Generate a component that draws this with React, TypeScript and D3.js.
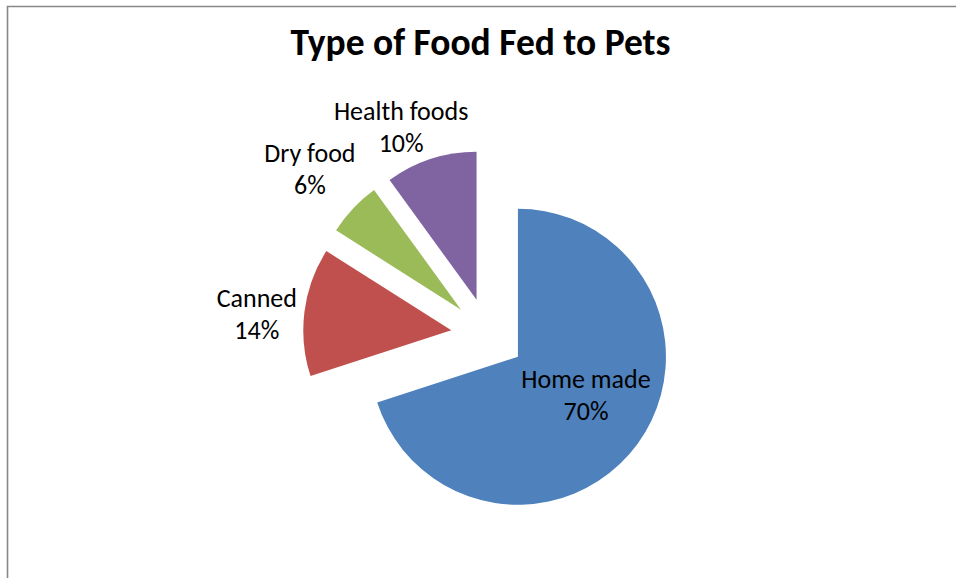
import React from "react";
import * as d3 from "d3";

const categories = ["Home made", "Canned", "Dry food", "Health foods"];
const values = [70, 14, 6, 10];
const colors = ["#4F81BD", "#C0504D", "#9BBB59", "#8064A2"];
const title = "Type of Food Fed to Pets";

const W = 956;
const H = 578;
const cx = 488;
const cy = 335;
const R = 148;
const explode = 37;
// label layout: distance from slice apex along mid-angle, plus small shift
const labelDist = [78, 196, 206, 189];
const labelShift: [number, number][] = [[5, -7], [0, 9], [-1, 1], [-17, 7]];
const lineGap = 32;
const FONT = "Carlito, Calibri, Lato, sans-serif";

export default function App() {
  const total = d3.sum(values);
  const pie = d3.pie<number>().sort(null).startAngle(0).endAngle(2 * Math.PI).value((d) => d);
  const arcs = pie(values);
  const arc = d3.arc<d3.PieArcDatum<number>>().innerRadius(0).outerRadius(R);

  return (
    <svg
      width={W}
      height={H}
      style={{ position: "absolute", left: 0, top: 0, background: "#fff" }}
    >
      <rect x={0} y={0} width={W} height={H} fill="#fff" />
      <path d={`M7.5,${H + 5} L7.5,6.5 L${W + 5},6.5`} fill="none" stroke="#888" strokeWidth={1.6} />
      <text
        x={480.5}
        y={55}
        textAnchor="middle"
        fontFamily={FONT}
        fontWeight="bold"
        fontSize={37.5}
        fill="#000"
      >
        {title}
      </text>
      {arcs.map((a, i) => {
        const mid = (a.startAngle + a.endAngle) / 2;
        const dx = Math.sin(mid);
        const dy = -Math.cos(mid);
        const ox = cx + dx * explode;
        const oy = cy + dy * explode;
        return (
          <path key={"s" + i} d={arc(a) || ""} transform={`translate(${ox},${oy})`} fill={colors[i]} />
        );
      })}
      {arcs.map((a, i) => {
        const mid = (a.startAngle + a.endAngle) / 2;
        const dx = Math.sin(mid);
        const dy = -Math.cos(mid);
        const ox = cx + dx * explode;
        const oy = cy + dy * explode;
        const lx = ox + dx * labelDist[i] + labelShift[i][0];
        const ly = oy + dy * labelDist[i] + labelShift[i][1];
        const pct = Math.round((values[i] / total) * 100) + "%";
        return (
          <g key={"l" + i} fontFamily={FONT} fontSize={26} fill="#000" textAnchor="middle">
            <text x={lx} y={ly - lineGap / 2 + 8.5}>{categories[i]}</text>
            <text x={lx} y={ly + lineGap / 2 + 8.5}>{pct}</text>
          </g>
        );
      })}
    </svg>
  );
}
